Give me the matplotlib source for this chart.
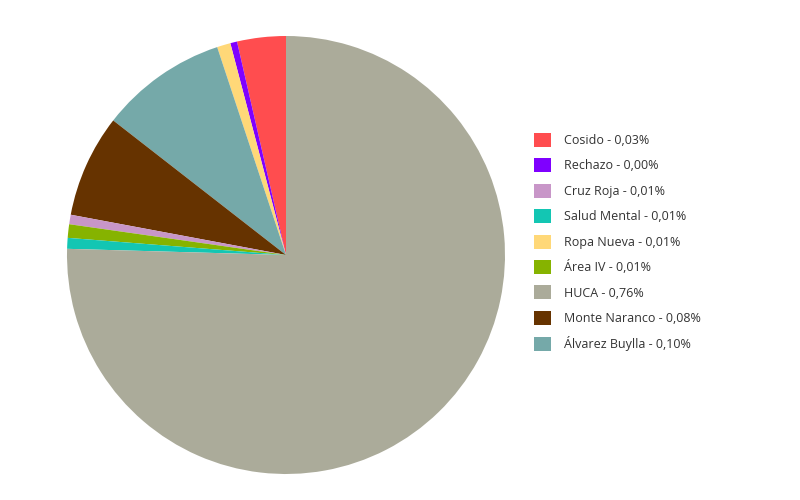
import matplotlib.pyplot as plt
from matplotlib.patches import Patch

plt.rcParams['font.family'] = ['Open Sans', 'DejaVu Sans']

# slices in drawing order (counterclockwise from the top)
slice_names = ['Cosido', 'Rechazo', 'Ropa Nueva', 'Álvarez Buylla', 'Monte Naranco',
               'Cruz Roja', 'Área IV', 'Salud Mental', 'HUCA']
slice_values = [3.6, 0.5, 1.0, 9.4, 7.6, 0.7, 1.0, 0.8, 75.6]

colors = {
    'Cosido': '#FF4D4F',
    'Rechazo': '#7F00FF',
    'Cruz Roja': '#C896C8',
    'Salud Mental': '#13C6B3',
    'Ropa Nueva': '#FFD878',
    'Área IV': '#86B300',
    'HUCA': '#ABAB9A',
    'Monte Naranco': '#663300',
    'Álvarez Buylla': '#75A9A9',
}

# legend order and labels
legend_names = ['Cosido', 'Rechazo', 'Cruz Roja', 'Salud Mental', 'Ropa Nueva',
                'Área IV', 'HUCA', 'Monte Naranco', 'Álvarez Buylla']
legend_pcts = ['0,03%', '0,00%', '0,01%', '0,01%', '0,01%', '0,01%', '0,76%', '0,08%', '0,10%']

fig = plt.figure(figsize=(8, 5), dpi=100)
ax = fig.add_axes([0.08375, 0.052, 0.5475, 0.876])
ax.pie(slice_values, colors=[colors[n] for n in slice_names], startangle=90,
       counterclock=True, wedgeprops={'linewidth': 0})
ax.set_xlim(-1, 1)
ax.set_ylim(-1, 1)
ax.set_aspect('equal')
ax.axis('off')

handles = [Patch(facecolor=colors[n], edgecolor='none') for n in legend_names]
labels = [f'{n} - {p}' for n, p in zip(legend_names, legend_pcts)]
fig.legend(handles, labels, loc='upper left', bbox_to_anchor=(0.653, 0.757),
           frameon=False, fontsize=9, handlelength=1.35, handleheight=1.35,
           handletextpad=1.1, labelspacing=0.9, labelcolor='#333333')

fig.savefig('out.png', dpi=100)
